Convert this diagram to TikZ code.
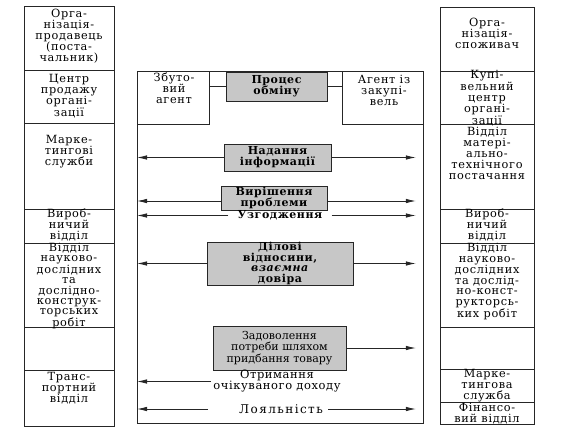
\documentclass[tikz,border=0pt]{standalone}
\usepackage{fontspec}
\setmainfont{DejaVu Serif}
\newfontfamily\lsA{DejaVu Serif}[LetterSpace=6]
\newfontfamily\lsB{DejaVu Serif}[LetterSpace=5]
\newfontfamily\lsC{DejaVu Serif}[LetterSpace=12]
\usetikzlibrary{arrows.meta}
\begin{document}
\begin{tikzpicture}[x=1pt,y=-1pt,line width=0.8pt,
  cell/.style={draw=black!85,inner sep=0pt,anchor=north west},
  txt/.style={align=center,inner sep=0pt,font=\lsA\fontsize{11.3}{11}\selectfont},
  txtn/.style={align=center,inner sep=0pt,font=\lsA\fontsize{11.3}{10.4}\selectfont},
  gbox/.style={draw=black!85,fill=black!22,inner sep=0pt,align=center,font=\lsB\bfseries\fontsize{11}{11}\selectfont},
  arr/.style={draw=black!85,-{Latex[length=10pt,width=4.5pt]}}]
\useasboundingbox (0,0) rectangle (561,442);
% left column
\node[cell,minimum width=90pt,minimum height=64pt] (l1) at (24,6) {};
\node[cell,minimum width=90pt,minimum height=53pt] (l2) at (24,70) {};
\node[cell,minimum width=90pt,minimum height=86pt] (l3) at (24,123) {};
\node[cell,minimum width=90pt,minimum height=34pt] (l4) at (24,209) {};
\node[cell,minimum width=90pt,minimum height=84pt] (l5) at (24,243) {};
\node[cell,minimum width=90pt,minimum height=43pt] (l6) at (24,327) {};
\node[cell,minimum width=90pt,minimum height=56pt] (l7) at (24,370) {};
\node[txt] (l1t) at (69,36) {Орга-\\нізація-\\продавець\\(поста-\\чальник)};
\node[txt] (l2t) at (69,96) {Центр\\продажу\\органі-\\зації};
\node[txt] (l3t) at (69,152) {Марке-\\тингові\\служби};
\node[txt] (l4t) at (69,225) {Вироб-\\ничий\\відділ};
\node[txtn] (l5t) at (69,286) {Відділ\\науково-\\дослідних\\та\\дослідно-\\конструк-\\торських\\робіт};
\node[txt] (l7t) at (69,388) {Транс-\\портний\\відділ};
% right column
\node[cell,minimum width=94pt,minimum height=64pt] (r1) at (440,7) {};
\node[cell,minimum width=94pt,minimum height=53pt] (r2) at (440,71) {};
\node[cell,minimum width=94pt,minimum height=85pt] (r3) at (440,124) {};
\node[cell,minimum width=94pt,minimum height=34pt] (r4) at (440,209) {};
\node[cell,minimum width=94pt,minimum height=84pt] (r5) at (440,243) {};
\node[cell,minimum width=94pt,minimum height=42pt] (r6) at (440,327) {};
\node[cell,minimum width=94pt,minimum height=33pt] (r7) at (440,369) {};
\node[cell,minimum width=94pt,minimum height=22pt] (r8) at (440,402) {};
\node[txt] (r1t) at (487,33) {Орга-\\нізація-\\споживач};
\node[txtn] (r2t) at (487,98.5) {Купі-\\вельний\\центр\\органі-\\зації};
\node[txt] (r3t) at (487,153.5) {Відділ\\матері-\\ально-\\технічного\\постачання};
\node[txt] (r4t) at (487,225) {Вироб-\\ничий\\відділ};
\node[txtn] (r5t) at (487,281.5) {Відділ\\науково-\\дослідних\\та дослід-\\но-конст-\\рукторсь-\\ких робіт};
\node[txt] (r7t) at (487,385.5) {Марке-\\тингова\\служба};
\node[txt] (r8t) at (487,413.5) {Фінансо-\\вий відділ};
% centre frame
\node[cell,minimum width=286pt,minimum height=352pt] (fr) at (137,71) {};
\coordinate (fre) at ([xshift=-8pt]fr.east);
\node[cell,minimum width=72pt,minimum height=53pt] (zb) at (137,71) {};
\node[cell,minimum width=81pt,minimum height=53pt] (ag) at (342,71) {};
\node[txt] (zbt) at (174,88) {Збуто-\\вий\\агент};
\node[txt] (agt) at (384,90) {Агент із\\закупі-\\вель};
\node[gbox,minimum width=101pt,minimum height=29pt] (po) at (276.5,86.5) {Процес\\обміну};
\draw[draw=black!85] (zb.east |- po) -- (po.west);
\draw[draw=black!85] (po.east) -- (ag.west |- po);
\node[gbox,minimum width=107pt,minimum height=27pt] (ni) at (277.5,157.5) {Надання\\інформації};
\draw[arr] (ni.west) -- (fr.west |- ni.west);
\draw[arr] (ni.east) -- (fre |- ni.east);
\node[gbox,minimum width=106pt,minimum height=24pt] (vp) at (274,198) {Вирішення\\проблеми};
\coordinate (vpw) at ([yshift=-3pt]vp.west);
\coordinate (vpe) at ([yshift=-3pt]vp.east);
\draw[arr] (vpw) -- (fr.west |- vpw);
\draw[arr] (vpe) -- (fre |- vpe);
\node[inner xsep=9pt,inner ysep=0pt,font=\lsB\bfseries\fontsize{11}{11}\selectfont] (un) at (280,215.5) {Узгодження};
\draw[arr] (un.west) -- (fr.west |- un.west);
\draw[arr] (un.east) -- (fre |- un.east);
\node[gbox,minimum width=146pt,minimum height=43pt,font=\lsB\bfseries\fontsize{11}{10.6}\selectfont] (dv) at (280,263.5) {Ділові\\відносини,\\\textit{взаємна}\\довіра};
\draw[arr] (dv.west) -- (fr.west |- dv.west);
\draw[arr] (dv.east) -- (fre |- dv.east);
\node[gbox,minimum width=133pt,minimum height=44pt,font=\fontsize{11}{11.5}\selectfont] (zp) at (279.5,348) {Задоволення\\потреби шляхом\\придбання товару};
\draw[arr] (zp.east) -- (fre |- zp.east);
\node[align=center,inner ysep=0pt,inner xsep=2pt,font=\lsB\fontsize{11.5}{11}\selectfont] (ot) at (277,381.5) {Отримання\\очікуваного доходу};
\draw[arr] (ot.west) -- (fr.west |- ot.west);
\node[inner sep=0pt,font=\lsC\fontsize{12}{11}\selectfont] (ly) at (281,409) {Лояльність};
\coordinate (lyl) at (208,409);
\coordinate (lyr) at (328,409);
\draw[arr] (lyl) -- (fr.west |- lyl);
\draw[arr] (lyr) -- (fre |- lyr);
\end{tikzpicture}
\end{document}
